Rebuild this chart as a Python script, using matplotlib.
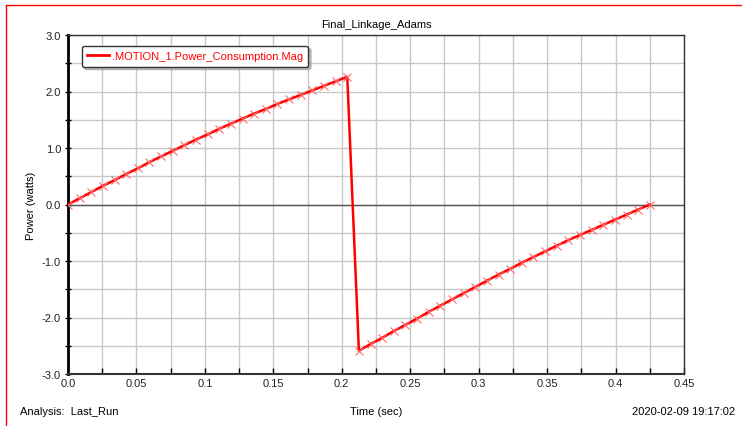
import matplotlib
matplotlib.use("Agg")
import matplotlib.pyplot as plt
from matplotlib.lines import Line2D
from matplotlib.ticker import MultipleLocator, FormatStrFormatter, FuncFormatter

plt.rcParams['font.family'] = ['Liberation Sans Narrow', 'Liberation Sans', 'DejaVu Sans']

# Simulation output: time (sec) and power consumption (watts)
time = [0.0, 0.0085, 0.017, 0.0255, 0.034, 0.0425, 0.051, 0.0595, 0.068, 0.0765,
        0.085, 0.0935, 0.102, 0.1105, 0.119, 0.1275, 0.136, 0.1445, 0.153, 0.1615,
        0.17, 0.1785, 0.187, 0.1955, 0.204,
        0.2125, 0.221, 0.2295, 0.238, 0.2465, 0.255, 0.2635, 0.272, 0.2805, 0.289,
        0.2975, 0.306, 0.3145, 0.323, 0.3315, 0.34, 0.3485, 0.357, 0.3655, 0.374,
        0.3825, 0.391, 0.3995, 0.408, 0.4165, 0.425]
power = [0.00, 0.11, 0.22, 0.33, 0.43, 0.54, 0.64, 0.75, 0.85, 0.95,
         1.05, 1.15, 1.24, 1.34, 1.43, 1.52, 1.61, 1.69, 1.78, 1.86,
         1.94, 2.02, 2.10, 2.18, 2.26,
         -2.59, -2.47, -2.36, -2.24, -2.13, -2.02, -1.90, -1.79, -1.68, -1.57,
         -1.46, -1.35, -1.24, -1.14, -1.03, -0.93, -0.83, -0.73, -0.63, -0.54,
         -0.45, -0.36, -0.27, -0.18, -0.09, 0.00]
series_name = '.MOTION_1.Power_Consumption.Mag'

fig = plt.figure(figsize=(7.42, 4.27), dpi=100)
ax = fig.add_axes([68/742, 1 - 375/427, (684 - 68)/742, (375 - 36)/427])

# grid
ax.xaxis.set_major_locator(MultipleLocator(0.05))
ax.xaxis.set_minor_locator(MultipleLocator(0.025))
ax.yaxis.set_major_locator(MultipleLocator(1.0))
ax.yaxis.set_minor_locator(MultipleLocator(0.5))
ax.grid(which='both', color='#c8c8c8', linewidth=1.0)
ax.set_axisbelow(True)
ax.axhline(0, color='#555555', linewidth=1.0, zorder=1)

ax.plot(time, power, color='red', linewidth=1.8, marker='x', markersize=6,
        markeredgewidth=0.8, markeredgecolor='#ff6a6a', zorder=3)

ax.set_xlim(0, 0.45)
ax.set_ylim(-3.0, 3.0)
ax.xaxis.set_major_formatter(FuncFormatter(lambda v, p: '0.0' if abs(v) < 1e-9 else f'{v:g}'))
ax.yaxis.set_major_formatter(FormatStrFormatter('%.1f'))
ax.tick_params(which='both', direction='inout', length=4, width=1, labelsize=8,
               colors='black', labelcolor='#222222', pad=3)
ax.tick_params(axis='x', which='both', direction='in')

for s in ['top', 'right']:
    ax.spines[s].set_color('#333333')
    ax.spines[s].set_linewidth(1)
ax.spines['left'].set_linewidth(2)
ax.spines['bottom'].set_linewidth(1.5)
ax.spines['bottom'].set_color('#333333')

ax.set_title('Final_Linkage_Adams', fontsize=8, pad=6)
ax.set_ylabel('Power (watts)', fontsize=8, labelpad=4)

handle = Line2D([], [], color='red', linewidth=2)
leg = ax.legend([handle], [series_name], loc='upper left',
                bbox_to_anchor=(0.013, 0.985), fontsize=8,
                handlelength=2.0, handletextpad=0.2, frameon=True, fancybox=True,
                shadow={'color': '#999999', 'alpha': 0.6}, borderpad=0.5,
                labelcolor='red')
leg.get_frame().set_edgecolor('#333333')
leg.get_frame().set_linewidth(1)

fig.text(20/742, 1 - 412/427, 'Analysis:  Last_Run', fontsize=8, va='center', ha='left')
fig.text(376/742, 1 - 412/427, 'Time (sec)', fontsize=8, va='center', ha='center')
fig.text(735/742, 1 - 412/427, '2020-02-09 19:17:02', fontsize=8, va='center', ha='right')

# red outer frame (top and left edges visible)
fig.add_artist(Line2D([6/742, 1], [1 - 6/427, 1 - 6/427], color='red', linewidth=1))
fig.add_artist(Line2D([6/742, 6/742], [0, 1 - 6/427], color='red', linewidth=1))

fig.savefig('out.png', dpi=100)
